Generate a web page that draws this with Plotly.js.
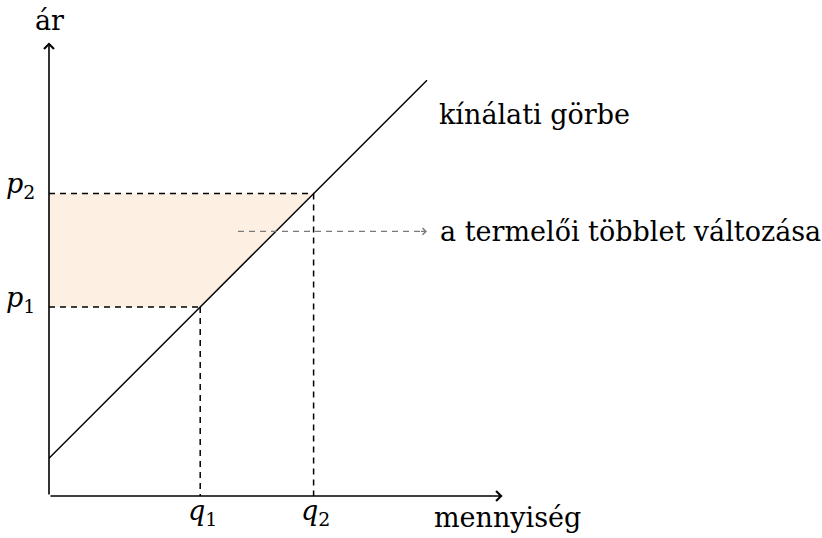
<!DOCTYPE html>
<html>
<head>
<meta charset="utf-8">
<script src="https://cdn.plot.ly/plotly-3.0.1.min.js"></script>
<style>html,body{margin:0;padding:0;background:#fff;}#chart{width:822px;height:538px;}</style>
</head>
<body>
<div id="chart"></div>
<script>
// Data (in chart units)
const quantities = [4, 7];          // q1, q2
const prices = [5, 8];              // p1, p2
const supplyX = [0, 10];
const supplyY = [1, 11];
const qLabels = ['<i>q</i><sub>1</sub>', '<i>q</i><sub>2</sub>'];
const pLabels = ['<i>p</i><sub>1</sub>', '<i>p</i><sub>2</sub>'];
const axisEnds = {x: 12.0, y: 12.0};
const arrowSpan = [5, 10];
const arrowLevel = 7;

const FONT = 'DejaVu Serif';
const fs = 27;

const traces = [];
// shaded change in producer surplus
traces.push({
  x: [0, quantities[0], quantities[1], 0, 0],
  y: [prices[0], prices[0], prices[1], prices[1], prices[0]],
  mode: 'lines', fill: 'toself', fillcolor: '#fdf0e3',
  line: {width: 0, color: 'rgba(0,0,0,0)'}, hoverinfo: 'skip'
});
// dashed guide lines
for (let i = 0; i < 2; i++) {
  traces.push({x: [0, quantities[i]], y: [prices[i], prices[i]], mode: 'lines',
    line: {color: '#000', width: 1.5, dash: '6px,5px'}, hoverinfo: 'skip'});
  traces.push({x: [quantities[i], quantities[i]], y: [prices[i], 0], mode: 'lines',
    line: {color: '#000', width: 1.5, dash: '6px,5px'}, hoverinfo: 'skip'});
}
// supply curve
traces.push({x: supplyX, y: supplyY, mode: 'lines', line: {color: '#000', width: 1.5}, hoverinfo: 'skip'});
// gray dashed arrow shaft
traces.push({x: [arrowSpan[0], arrowSpan[1] - 0.15], y: [arrowLevel, arrowLevel], mode: 'lines',
  line: {color: '#7a7a7a', width: 1.2, dash: '6px,5px'}, hoverinfo: 'skip'});

const ann = [];
// axes as arrows
ann.push({x: axisEnds.x, y: 0, ax: 0, ay: 0, xref: 'x', yref: 'y', axref: 'x', ayref: 'y',
  showarrow: true, arrowhead: 4, arrowsize: 1.2, arrowwidth: 1.6, arrowcolor: '#000', text: ''});
ann.push({x: 0, y: axisEnds.y, ax: 0, ay: 0, xref: 'x', yref: 'y', axref: 'x', ayref: 'y',
  showarrow: true, arrowhead: 4, arrowsize: 1.2, arrowwidth: 1.6, arrowcolor: '#000', text: ''});
// gray arrow head
ann.push({x: arrowSpan[1], y: arrowLevel, ax: arrowSpan[1] - 0.2, ay: arrowLevel, xref: 'x', yref: 'y', axref: 'x', ayref: 'y',
  showarrow: true, arrowhead: 4, arrowsize: 1.2, arrowwidth: 1.1, arrowcolor: '#7a7a7a', text: ''});

const txt = (text, x, y, xa, ya, xs, ys) => ({text, x, y, xref: 'x', yref: 'y', showarrow: false,
  xanchor: xa, yanchor: ya, xshift: xs || 0, yshift: ys || 0, font: {family: FONT, size: fs, color: '#000'}});

ann.push(txt('ár', 0, 12.57, 'center', 'middle'));
ann.push(txt('mennyiség', 10.13, 0, 'left', 'middle', 0, -21));
for (let i = 0; i < 2; i++) {
  ann.push(txt(qLabels[i], quantities[i], 0, 'center', 'middle', 2, -16));
  ann.push(txt(pLabels[i], 0, prices[i], 'right', 'middle', -12, 8));
}
ann.push(txt('kínálati görbe', 10.26, 10.1, 'left', 'middle'));
ann.push(txt('a termelői többlet változása', 10.29, arrowLevel, 'left', 'middle'));

const ax = {visible: false, showgrid: false, zeroline: false, fixedrange: true};
const layout = {
  width: 822, height: 538,
  margin: {l: 49, r: 0, t: 0, b: 42},
  font: {family: FONT, size: fs, color: '#000'},
  paper_bgcolor: '#fff', plot_bgcolor: '#fff',
  showlegend: false,
  xaxis: Object.assign({range: [0, 773 / 37.8]}, ax),
  yaxis: Object.assign({range: [0, 496 / 37.8]}, ax),
  annotations: ann
};
Plotly.newPlot('chart', traces, layout, {displayModeBar: false, staticPlot: true});
</script>
</body>
</html>
